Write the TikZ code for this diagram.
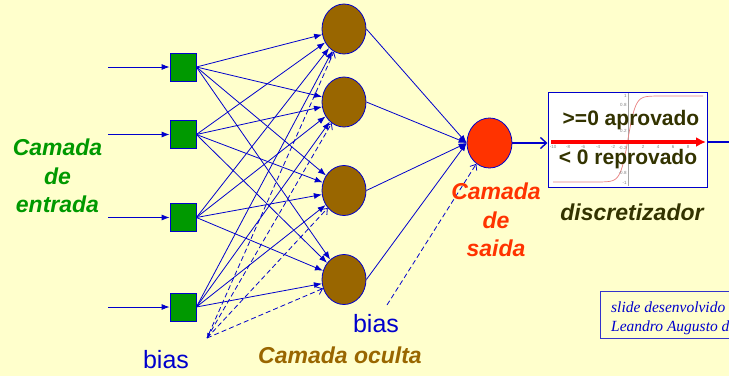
\documentclass[tikz,border=0pt]{standalone}
\usepackage{fontspec}
\setmainfont{Liberation Sans}
\newfontfamily\timesfont{Liberation Serif}
\usetikzlibrary{arrows.meta,shapes.geometric}

\definecolor{bgyellow}{HTML}{FFFFCC}
\definecolor{netblue}{HTML}{0000CC}
\definecolor{boxblue}{HTML}{3333CC}
\definecolor{ingreen}{HTML}{009900}
\definecolor{hidbrown}{HTML}{996600}
\definecolor{outred}{HTML}{FF3300}
\definecolor{darkolive}{HTML}{333300}
\definecolor{sigred}{HTML}{E88080}

\begin{document}
\begin{tikzpicture}[x=1pt,y=-1pt,
  inbox/.style={draw=netblue, fill=ingreen, line width=0.8pt,
    minimum width=26pt, minimum height=28pt, inner sep=0pt},
  hidnode/.style={ellipse, draw=netblue, fill=hidbrown, line width=0.8pt,
    minimum width=44pt, minimum height=50pt, inner sep=0pt},
  outnode/.style={hidnode, fill=outred, minimum width=45pt},
  link/.style={netblue, line width=0.8pt, -{Latex[length=8pt,width=6pt]}},
  biaslink/.style={netblue, line width=0.8pt, dash pattern=on 5pt off 3pt,
    -{Straight Barb[length=5pt,width=8pt]}},
  bigarrow/.style={netblue, line width=1.4pt, -{Straight Barb[length=6pt,width=11pt]}},
  layertext/.style={font=\fontsize{23}{28.5}\selectfont\bfseries\itshape, align=center},
  biastext/.style={font=\fontsize{25}{30}\selectfont, text=netblue, anchor=base},
  ruletext/.style={font=\fontsize{21}{25}\selectfont\bfseries, text=darkolive,
    anchor=base, inner sep=0pt},
  ticktext/.style={font=\fontsize{4.5}{5}\selectfont, text=gray, inner sep=0.3pt},
  credittext/.style={font=\fontsize{15.5}{19}\selectfont\timesfont\itshape,
    text=netblue, anchor=base west, inner sep=0pt}]

  \useasboundingbox (0,0) rectangle (729,376);
  \fill[bgyellow] (0,0) rectangle (729,376);

  %% camada de entrada
  \foreach \i/\y in {1/67,2/134.5,3/217.5,4/307}{
    \node[inbox] (in\i) at (183,\y) {};
    \coordinate (src\i) at (108,\y);
  }
  %% camada oculta
  \foreach \j/\y in {1/29,2/102,3/190.5,4/279.5}
    \node[hidnode] (hid\j) at (344,\y) {};
  %% camada de saida
  \node[outnode] (out) at (489.5,143) {};

  \foreach \i in {1,...,4}{
    \draw[link] (src\i) -- (in\i);
    \foreach \j in {1,...,4}
      \draw[link] (in\i.east) -- (hid\j);
  }
  \foreach \j in {1,...,4}
    \draw[link] (hid\j.east) -- (out.west);

  %% bias
  \coordinate (bias1) at (207,338);
  \coordinate (bias2) at (387,305);
  \draw[biaslink, {Latex[length=5pt,width=4pt]}-{Straight Barb[length=5pt,width=8pt]}] (bias1) -- (hid1);
  \foreach \j in {2,3,4}
    \draw[biaslink] (bias1) -- (hid\j);
  \draw[biaslink] (bias2) -- (out);

  %% discretizador
  \node[draw=netblue, fill=white, line width=1pt, minimum width=159pt,
    minimum height=95pt, inner sep=0pt] (disc) at (627.5,139.5) {};
  \draw[gray!70, line width=0.4pt] (628,93) -- (628,186);
  \draw[sigred, line width=0.7pt] (553,182) -- (598,182)
    plot[domain=-4:4, samples=60, smooth] ({628+7.5*\x}, {139-43*tanh(\x)})
    -- (703,96);
  \foreach \v/\y in {1/96,0.8/105,0.2/131,-0.2/148,-0.8/173,-1/183}
    \node[ticktext, anchor=east] at (627,\y) {\v};
  \foreach \v in {-10,-8,-6,-4,-2,2,4,6,8}
    \node[ticktext, anchor=north] at ({628+7.5*\v},144.5) {\v};

  \node[ruletext] (pass) at (631,125) {>=0 aprovado};
  \node[ruletext] (fail) at (628,164) {< 0 reprovado};

  \coordinate (axl) at (551,142);
  \coordinate (axr) at (706,142);
  \draw[red, line width=3.4pt, -{Latex[length=10pt,width=10pt]}] (axl) -- (axr);

  \coordinate (exit) at (737,142);
  \draw[bigarrow] (out) -- (out -| disc.west);
  \draw[bigarrow] (disc.east |- axr) -- (exit);

  %% textos
  \node[layertext, text=ingreen] (inlabel) at (57.5,176) {Camada\\de\\entrada};
  \node[layertext, text=outred] (outlabel) at (496,220) {Camada\\de\\saida};
  \node[layertext, text=hidbrown, anchor=base] (hidlabel) at (340,363) {Camada oculta};
  \node[layertext, text=darkolive, anchor=base] (disclabel) at (632,220) {discretizador};
  \node[biastext] (biaslabel1) at (166,368) {bias};
  \node[biastext] (biaslabel2) at (376,332) {bias};

  %% creditos
  \node[draw=boxblue, line width=1.2pt, minimum width=140pt, minimum height=47pt,
    anchor=north west] (credit) at (600,291) {};
  \node[credittext] (credit1) at (611,312) {slide desenvolvido};
  \node[credittext] (credit2) at (611,331) {Leandro Augusto d};
\end{tikzpicture}
\end{document}
